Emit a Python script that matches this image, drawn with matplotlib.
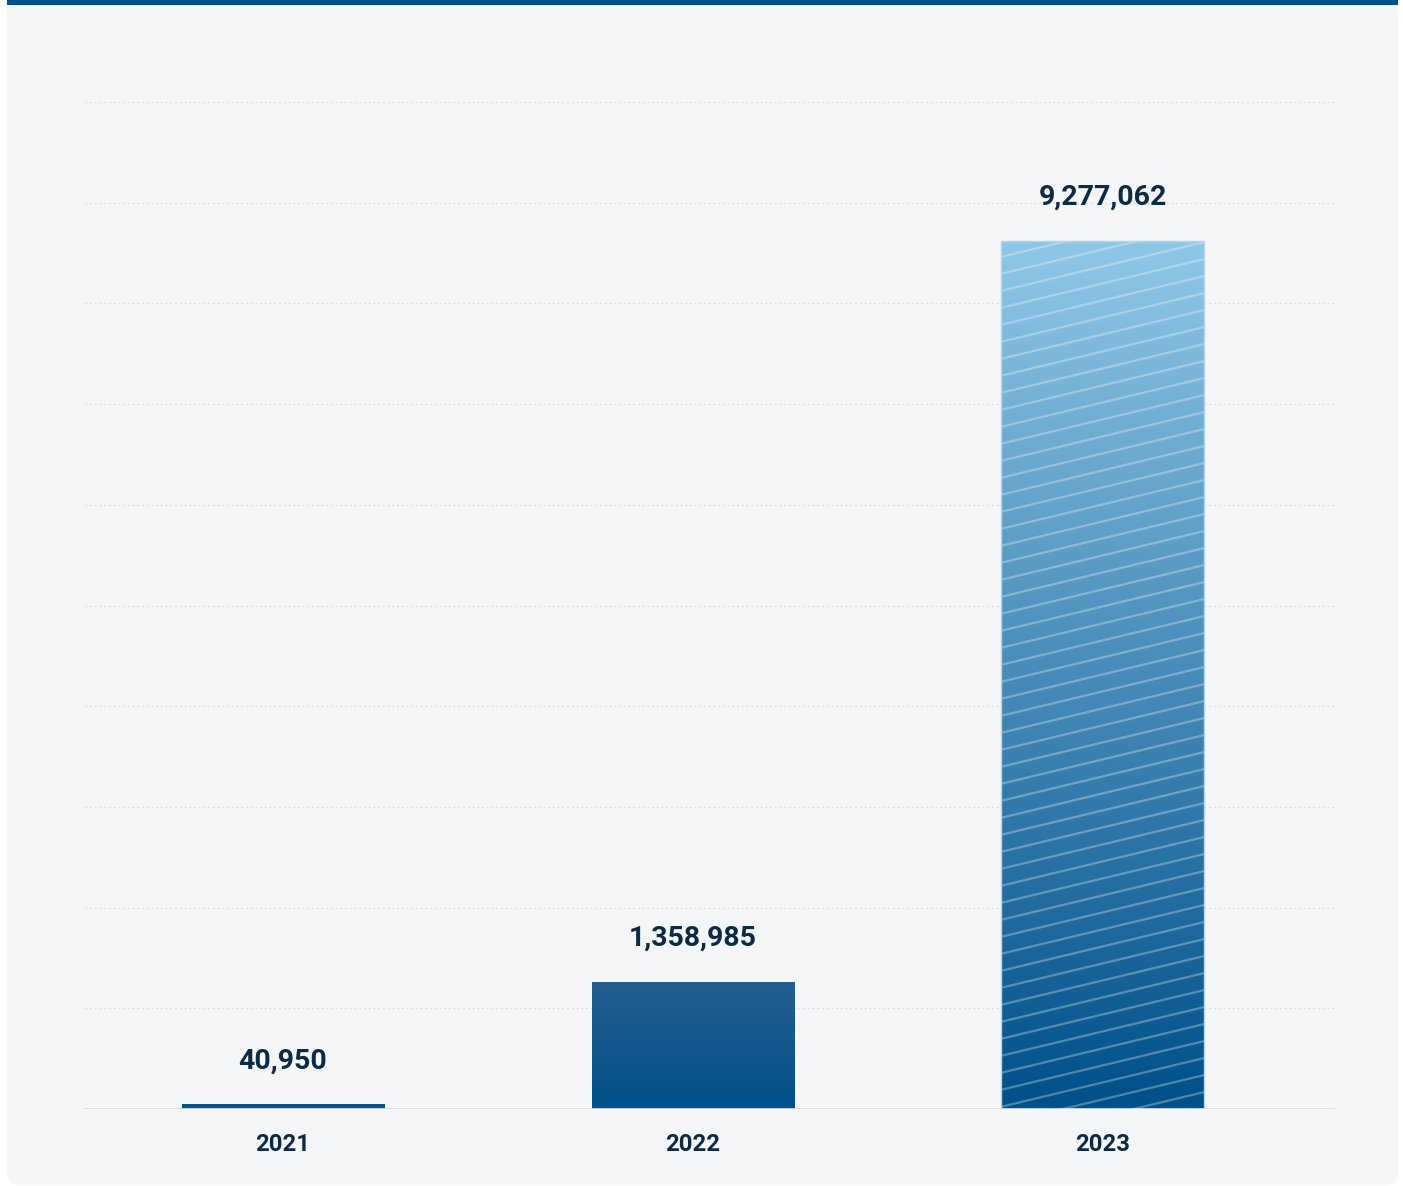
import numpy as np
import matplotlib
matplotlib.use("Agg")
import matplotlib.pyplot as plt
from matplotlib.patches import FancyBboxPatch, Rectangle
from matplotlib.colors import LinearSegmentedColormap
from matplotlib.lines import Line2D
from matplotlib.transforms import IdentityTransform

# Data
years = ["2021", "2022", "2023"]
values = [40950, 1358985, 9277062]

plt.rcParams["font.family"] = ["Roboto", "DejaVu Sans"]

W, H, DPI = 1403, 1186, 100
fig = plt.figure(figsize=(W / DPI, H / DPI), dpi=DPI, facecolor="white")

TEXT = "#0d2a45"
NAVY = "#00508a"
PANEL = "#f4f6f8"

# Card background in pixel coordinates
bg = fig.add_axes([0, 0, 1, 1], zorder=0)
bg.set_xlim(0, W)
bg.set_ylim(H, 0)
bg.axis("off")
card = FancyBboxPatch((7, -20), 1391, 1205, boxstyle="round,pad=0,rounding_size=13",
                      facecolor=PANEL, edgecolor="none")
bg.add_patch(card)
band = Rectangle((0, -30), W, 34.5, facecolor=NAVY, edgecolor="none")
bg.add_patch(band)
band.set_clip_path(card)

# Main chart axes
x0, x1, ytop, ybot = 85, 1335, 102, 1109
ax = fig.add_axes([x0 / W, (H - ybot) / H, (x1 - x0) / W, (ybot - ytop) / H], zorder=1)
ax.patch.set_alpha(0)

ymax = max(values) * 1.16
ax.set_ylim(0, ymax)
ax.set_xlim(-0.483, 2.566)
for s in ax.spines.values():
    s.set_visible(False)
ax.set_yticks([])
for g in np.linspace(0, ymax, 11)[1:]:
    ax.axhline(g, color="#d8dce1", lw=1.0, ls=(0, (1.2, 2.2)), zorder=0)
ax.axhline(0, color="#d9dcdf", lw=2.0, zorder=3)

xs = np.arange(len(years))
bw = 0.495
min_h = ymax * 0.005
heights = [max(v, min_h) for v in values]
bars = ax.bar(xs, heights, width=bw, color="none", edgecolor="none", zorder=2)

grad_specs = [
    ("#0a5289", NAVY),
    ("#255f90", NAVY),
    ("#8fc7e7", NAVY),
]
fig.canvas.draw()
for i, (b, (top_c, bot_c)) in enumerate(zip(bars, grad_specs)):
    cmap = LinearSegmentedColormap.from_list(f"g{i}", [bot_c, top_c])
    bx, by, bwid, bh = b.get_x(), b.get_y(), b.get_width(), b.get_height()
    grad = np.linspace(0, 1, 256).reshape(-1, 1)
    im = ax.imshow(grad, extent=(bx, bx + bwid, by, by + bh), origin="lower",
                   cmap=cmap, aspect="auto", zorder=2, interpolation="bilinear")
    im.set_clip_path(b)
    if i == 2:
        b.set_edgecolor("#b5d6ec")
        b.set_linewidth(1.0)
        b.set_zorder(4)
        # diagonal hatch across the bar, drawn in display space
        (dx0, dy0) = ax.transData.transform((bx, by))
        (dx1, dy1) = ax.transData.transform((bx + bwid, by + bh))
        slope = 0.24
        step = 17.0
        wpx = dx1 - dx0
        c = dy0 - slope * wpx - step
        while c < dy1 + step:
            ln = Line2D([dx0, dx1], [c, c + slope * wpx], transform=IdentityTransform(),
                        color="white", alpha=0.3, lw=1.6, zorder=3)
            ax.add_line(ln)
            ln.set_clip_path(b)
            c += step

ax.set_xlim(-0.483, 2.566)
ax.set_ylim(0, ymax)

for x, v in zip(xs, values):
    ax.annotate(f"{v:,}", (x, v), xytext=(0, 26), textcoords="offset points",
                ha="center", va="baseline", fontsize=20.5, fontweight="semibold",
                color=TEXT, zorder=5)

ax.set_xticks(xs)
ax.set_xticklabels(years, fontsize=17.2, fontweight="bold", color=TEXT)
ax.tick_params(axis="x", length=0, pad=17.5)

fig.savefig("out.png", dpi=DPI, facecolor="white")
